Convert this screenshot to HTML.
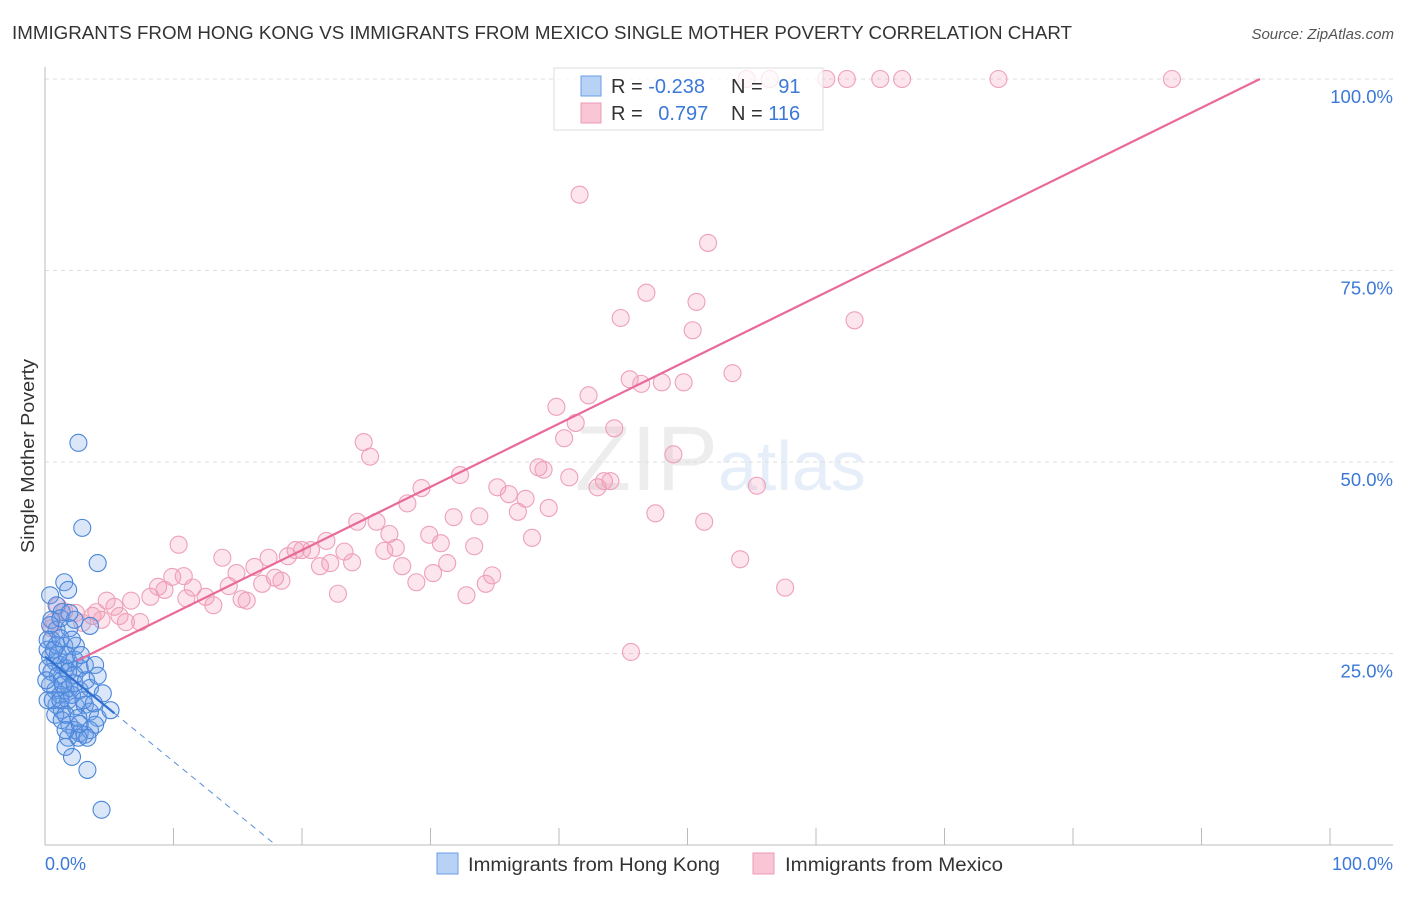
<!DOCTYPE html>
<html><head><meta charset="utf-8"><style>
body{margin:0;background:#fff;font-family:"Liberation Sans",sans-serif;}
svg text{font-family:"Liberation Sans",sans-serif;}
</style></head><body>
<svg id="chart" width="1406" height="892" viewBox="0 0 1406 892" xmlns="http://www.w3.org/2000/svg">
<text x="12" y="39" font-size="18" fill="#333" textLength="1060" lengthAdjust="spacingAndGlyphs">IMMIGRANTS FROM HONG KONG VS IMMIGRANTS FROM MEXICO SINGLE MOTHER POVERTY CORRELATION CHART</text>
<text x="1394" y="39" font-size="15" fill="#555" font-style="italic" text-anchor="end">Source: ZipAtlas.com</text>
<text x="718" y="490" font-size="92" fill="#000" fill-opacity="0.07" text-anchor="end" font-family="Liberation Serif">ZIP</text>
<text x="718" y="490" font-size="70" fill="#5a8fd8" fill-opacity="0.15">atlas</text>
<g id="grid"></g><g id="axes"></g><g id="pts"></g><g id="lines"></g>
<text transform="translate(34,456) rotate(-90)" font-size="18" fill="#333" text-anchor="middle" textLength="194" lengthAdjust="spacingAndGlyphs">Single Mother Poverty</text>
<text x="45" y="870" font-size="18" fill="#3b78d8">0.0%</text>
<text x="1393" y="870" font-size="18" fill="#3b78d8" text-anchor="end">100.0%</text>
<g>
<rect x="554" y="68" width="269" height="62" fill="#fff" fill-opacity="0.75" stroke="#ddd"/>
<rect x="581" y="76" width="20" height="20" fill="#b8d2f5" stroke="#6a9ee6"/>
<rect x="581" y="103" width="20" height="20" fill="#f9c6d6" stroke="#ec9ab5"/>
<text x="611" y="93" font-size="20" fill="#333">R = <tspan fill="#3b78d8">-0.238</tspan></text>
<text x="731" y="93" font-size="20" fill="#333">N = <tspan fill="#3b78d8" dx="10">91</tspan></text>
<text x="611" y="120" font-size="20" fill="#333">R = <tspan fill="#3b78d8" dx="10">0.797</tspan></text>
<text x="731" y="120" font-size="20" fill="#333">N = <tspan fill="#3b78d8">116</tspan></text>
</g>
<g>
<rect x="437" y="853" width="21" height="21" fill="#b8d2f5" stroke="#6a9ee6"/>
<text x="468" y="871" font-size="19" fill="#333" textLength="252" lengthAdjust="spacingAndGlyphs">Immigrants from Hong Kong</text>
<rect x="753" y="853" width="21" height="21" fill="#f9c6d6" stroke="#ec9ab5"/>
<text x="785" y="871" font-size="19" fill="#333" textLength="218" lengthAdjust="spacingAndGlyphs">Immigrants from Mexico</text>
</g>
</svg>
<script>
const yTicks=[25,50,75,100];
const yTickLabels=["25.0%","50.0%","75.0%","100.0%"];
const xTicks=[0,10,20,30,40,50,60,70,80,90,100];
const pinkX=[56.4,54.6,60.8,62.4,65.0,66.7,74.2,87.7,41.6,51.6,46.8,50.7,44.8,50.4,63.0,45.5,46.4,48.0,49.7,53.5,42.3,39.8,41.3,44.3,40.4,24.8,25.3,48.9,38.4,38.8,40.8,43.0,43.5,44.0,32.3,29.3,28.2,35.2,36.1,37.4,55.4,31.8,33.8,36.8,39.2,51.3,47.5,24.3,25.8,26.8,29.9,30.8,37.9,33.4,10.4,13.8,17.4,19.5,20.0,18.9,20.7,21.9,23.3,23.9,21.4,22.2,26.4,27.3,27.8,31.3,30.2,34.8,34.3,28.9,54.1,57.6,9.9,10.8,8.8,8.2,11.5,14.3,14.9,17.9,16.9,18.4,16.3,9.3,11.0,12.5,13.1,15.3,15.7,22.8,32.8,4.8,6.7,5.4,4.0,1.0,1.5,2.4,3.7,6.3,7.4,5.8,4.4,2.9,0.7,0.5,45.6];
const pinkY=[100,100,100,100,100,100,100,100,84.9,78.6,72.1,70.9,68.8,67.2,68.5,60.8,60.2,60.4,60.4,61.6,58.7,57.2,55.1,54.4,53.1,52.6,50.7,51.0,49.3,49.0,48.0,46.7,47.5,47.5,48.3,46.6,44.6,46.7,45.8,45.2,46.9,42.8,42.9,43.5,44.0,42.2,43.3,42.2,42.2,40.6,40.5,39.4,40.1,39.0,39.2,37.5,37.5,38.5,38.5,37.7,38.5,39.7,38.3,36.9,36.4,36.8,38.4,38.8,36.4,36.8,35.5,35.2,34.1,34.3,37.3,33.6,35.0,35.1,33.7,32.4,33.6,33.8,35.5,34.9,34.1,34.5,36.3,33.3,32.2,32.4,31.3,32.1,31.9,32.8,32.6,31.9,31.9,31.1,30.4,31.2,30.5,30.3,29.9,29.1,29.1,29.9,29.4,29.0,29.2,28.3,25.2];
const blueX=[2.6,2.9,4.1,1.5,1.8,0.4,0.9,1.3,2.3,3.5,0.5,0.9,1.9,1.5,2.4,0.4,0.8,1.2,1.6,1.9,2.3,2.7,3.1,3.9,0.2,0.5,1.0,1.3,1.8,2.3,0.4,0.8,1.2,1.6,1.9,2.7,3.5,4.5,0.9,1.3,1.8,2.4,3.1,3.5,4.1,5.1,0.8,1.3,1.9,2.3,2.7,3.1,3.5,3.9,1.8,2.6,3.3,1.6,2.1,3.3,4.4,0.2,0.5,1.0,0.1,0.2,0.6,1.2,2.1,3.0,1.6,2.6,1.6,2.7,3.8,1.4,2.3,3.2,4.1,0.4,1.2,1.9,0.9,1.7,2.8,0.2,0.7,1.2,2.1];
const blueY=[52.5,41.4,36.8,34.3,33.3,32.6,31.3,30.4,29.4,28.6,29.4,28.1,28.3,26.0,26.0,24.5,23.9,23.5,23.1,23.8,24.2,23.1,23.5,23.5,23.1,22.6,22.1,21.5,22.6,22.2,20.9,20.2,19.6,20.2,20.5,20.2,20.5,19.8,18.3,17.6,18.9,18.1,18.3,17.4,16.6,17.6,17.0,16.3,15.7,15.0,14.6,14.4,15.0,15.7,14.0,14.0,14.0,12.8,11.5,9.8,4.6,25.5,26.8,24.8,21.5,18.9,18.9,18.9,19.6,18.9,17.0,16.6,15.0,15.8,18.5,20.9,21.1,21.5,22.1,28.7,29.6,30.3,26.1,24.8,24.8,26.8,25.5,27.0,26.8];
const pinkTrend=[22.0,0.825];
const blueTrend=[24.6,-1.37];
const blueSolidEnd=5.4;

const NS="http://www.w3.org/2000/svg";
const X0=45,X1=1330,Y0=845,Y100=79;
const sx=v=>X0+(X1-X0)*v/100;
const sy=v=>Y0-(Y0-Y100)*v/100;
function mk(tag,attrs,parent){const e=document.createElementNS(NS,tag);for(const k in attrs)e.setAttribute(k,attrs[k]);document.getElementById(parent).appendChild(e);return e;}

yTicks.forEach((t,i)=>{
  const l=mk('line',{x1:45,x2:1393,y1:sy(t),y2:sy(t),stroke:'#ddd','stroke-dasharray':'4,4'},'grid');
  
  
  const tx=mk('text',{x:1393,y:sy(t)+24,'font-size':18.5,fill:'#3b78d8','text-anchor':'end'},'grid');
  tx.textContent=yTickLabels[i];
  
  
});
const ya=mk('line',{x1:45,x2:45,y1:67,y2:845,stroke:'#bbb'},'axes');


const xa=mk('line',{x1:45,x2:1393,y1:845,y2:845,stroke:'#bbb'},'axes');


xTicks.forEach(t=>{
  const l=mk('line',{x1:sx(t),x2:sx(t),y1:828,y2:845,stroke:'#bbb'},'axes');
  
  
});
pinkX.forEach((v,i)=>{
  const c=mk('circle',{cx:sx(v),cy:sy(pinkY[i]),r:8.5,fill:'rgba(242,150,180,0.25)',stroke:'#eea0b9','stroke-width':1.1},'pts');
  
  
});
blueX.forEach((v,i)=>{
  const c=mk('circle',{cx:sx(v),cy:sy(blueY[i]),r:8.5,fill:'rgba(110,160,230,0.25)',stroke:'#4a86da','stroke-width':1.1},'pts');
  
  
});
const px2=(100-pinkTrend[0])/pinkTrend[1];
const pl=mk('line',{x1:sx(2.5),y1:sy(pinkTrend[0]+pinkTrend[1]*2.5),x2:sx(px2),y2:sy(100),stroke:'#e8699a','stroke-width':2.2},'lines');


const bl=mk('line',{x1:sx(0),y1:sy(blueTrend[0]),x2:sx(blueSolidEnd),y2:sy(blueTrend[0]+blueTrend[1]*blueSolidEnd),stroke:'#2f6fd0','stroke-width':2.2},'lines');


const bz=-blueTrend[0]/blueTrend[1];
const bd=mk('line',{x1:sx(blueSolidEnd),y1:sy(blueTrend[0]+blueTrend[1]*blueSolidEnd),x2:sx(bz),y2:sy(0),stroke:'#5a8fd8','stroke-width':1,'stroke-dasharray':'6,5'},'lines');


</script>
</body></html>
